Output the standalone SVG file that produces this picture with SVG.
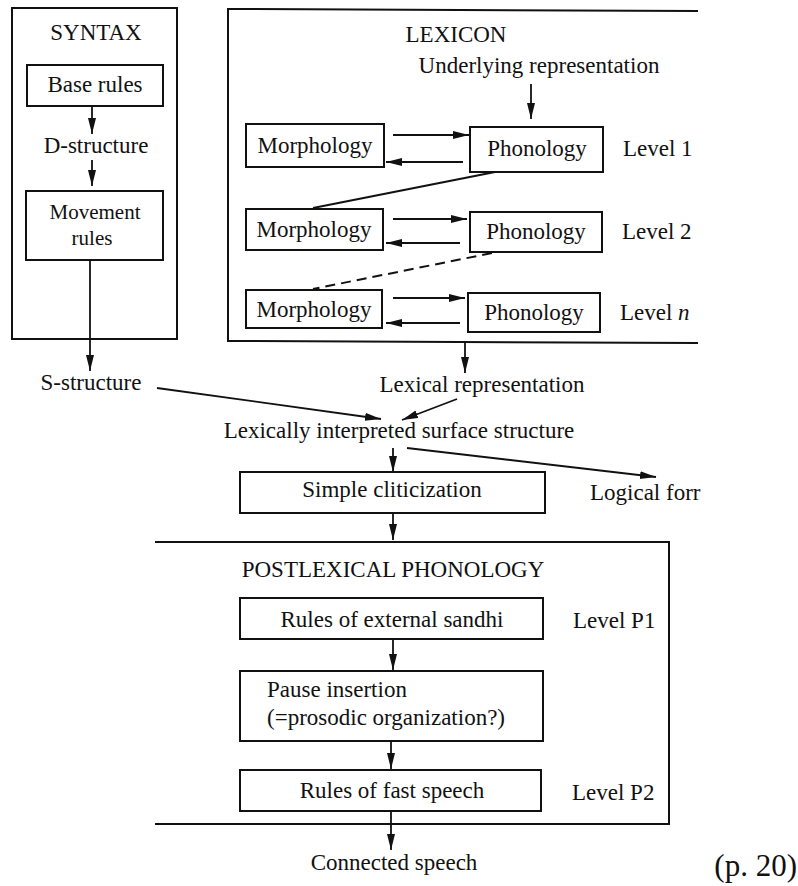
<svg xmlns="http://www.w3.org/2000/svg" width="798" height="886" viewBox="0 0 798 886">
<style>
  text { font-family: "Liberation Serif", "Times New Roman", serif; font-size: 23px; fill: #111; }
  .c { text-anchor: middle; }
  .sm { font-size: 21px; }
  .box { fill: none; stroke: #111; stroke-width: 2; }
  .ln { fill: none; stroke: #111; stroke-width: 2; }
  .arr { fill: none; stroke: #111; stroke-width: 1.8; marker-end: url(#ah); }
  .dash { stroke-dasharray: 10 6; }
</style>
<defs>
  <marker id="ah" markerUnits="userSpaceOnUse" markerWidth="18" markerHeight="10" refX="16" refY="4" orient="auto">
    <path d="M0,0 L16,4 L0,8 z" fill="#111"/>
  </marker>
</defs>
<rect width="798" height="886" fill="#fff"/>

<g id="syntax">
  <rect class="box" x="12" y="8" width="165" height="331"/>
  <text class="c" x="96" y="40">SYNTAX</text>
</g>
<g id="base-rules">
  <rect class="box" x="27" y="65" width="136" height="41"/>
  <text class="c" x="95" y="92">Base rules</text>
</g>
<g id="d-structure"><text class="c" x="96" y="153">D-structure</text></g>
<g id="movement-rules">
  <rect class="box" x="26" y="191" width="137" height="69"/>
  <text class="c sm" x="95" y="219">Movement</text>
  <text class="c sm" x="92" y="245">rules</text>
</g>
<g id="s-structure"><text class="c" x="91" y="390">S-structure</text></g>

<g id="lexicon">
  <path class="box" d="M698,11 L228,9 L228,341 L698,343"/>
  <text class="c" x="456" y="42">LEXICON</text>
</g>
<g id="underlying"><text class="c" x="539" y="73">Underlying representation</text></g>
<g id="morph1">
  <rect class="box" x="246" y="124" width="138" height="43"/>
  <text class="c" x="315" y="153">Morphology</text>
</g>
<g id="phon1">
  <rect class="box" x="470" y="127" width="133" height="45"/>
  <text class="c" x="537" y="156">Phonology</text>
</g>
<g id="level1"><text x="623" y="156">Level 1</text></g>
<g id="morph2">
  <rect class="box" x="246" y="209" width="137" height="41"/>
  <text class="c" x="314" y="237">Morphology</text>
</g>
<g id="phon2">
  <rect class="box" x="470" y="212" width="132" height="40"/>
  <text class="c" x="536" y="239">Phonology</text>
</g>
<g id="level2"><text x="622" y="239">Level 2</text></g>
<g id="morph3">
  <rect class="box" x="246" y="290" width="136" height="38"/>
  <text class="c" x="314" y="317">Morphology</text>
</g>
<g id="phon3">
  <rect class="box" x="468" y="293" width="132" height="39"/>
  <text class="c" x="534" y="320">Phonology</text>
</g>
<g id="leveln"><text x="620" y="320">Level <tspan font-style="italic">n</tspan></text></g>

<g id="lexical-rep"><text class="c" x="482" y="392">Lexical representation</text></g>
<g id="lexically-interpreted"><text class="c" x="399" y="438">Lexically interpreted surface structure</text></g>
<g id="simple-cliticization">
  <rect class="box" x="240" y="472" width="305" height="41"/>
  <text class="c" x="392" y="497">Simple cliticization</text>
</g>
<g id="logical-form"><text x="590" y="500">Logical forr</text></g>

<g id="postlexical">
  <path class="box" d="M155,542 L669,542 L669,824 L155,824"/>
  <text class="c" x="393" y="577">POSTLEXICAL PHONOLOGY</text>
</g>
<g id="external-sandhi">
  <rect class="box" x="240" y="598" width="303" height="41"/>
  <text class="c" x="392" y="627">Rules of external sandhi</text>
</g>
<g id="levelp1"><text x="573" y="628">Level P1</text></g>
<g id="pause-insertion">
  <rect class="box" x="240" y="671" width="303" height="70"/>
  <text x="267" y="697">Pause insertion</text>
  <text x="267" y="725">(=prosodic organization?)</text>
</g>
<g id="fast-speech">
  <rect class="box" x="240" y="770" width="301" height="41"/>
  <text class="c" x="392" y="798">Rules of fast speech</text>
</g>
<g id="levelp2"><text x="572" y="800">Level P2</text></g>
<g id="connected-speech"><text class="c" x="394" y="870">Connected speech</text></g>
<g id="page"><text x="797" y="876" text-anchor="end" style="font-size:31px">(p. 20)</text></g>

<g id="connectors">
  <path class="arr" d="M92,106 L92,134"/>
  <path class="arr" d="M92,160 L92,186"/>
  <path class="arr" d="M90,260 L90,371"/>
  <path class="arr" d="M531,84 L531,119"/>
  <path class="arr" d="M393,135 L469,135"/>
  <path class="arr" d="M463,162 L386,162"/>
  <path class="ln" d="M495,172 L313,208"/>
  <path class="arr" d="M393,219 L467,219"/>
  <path class="arr" d="M460,243 L386,243"/>
  <path class="ln dash" d="M492,253 L313,289"/>
  <path class="arr" d="M393,298 L465,298"/>
  <path class="arr" d="M460,323 L386,323"/>
  <path class="arr" d="M465,342 L465,373"/>
  <path class="arr" d="M157,388 L381,419"/>
  <path class="arr" d="M457,399 L402,420"/>
  <path class="arr" d="M393,448 L393,472"/>
  <path class="arr" d="M407,448 L656,477"/>
  <path class="arr" d="M393,513 L393,540"/>
  <path class="arr" d="M393,639 L393,670"/>
  <path class="arr" d="M391,741 L391,769"/>
  <path class="arr" d="M391,811 L391,850"/>
</g>
</svg>
